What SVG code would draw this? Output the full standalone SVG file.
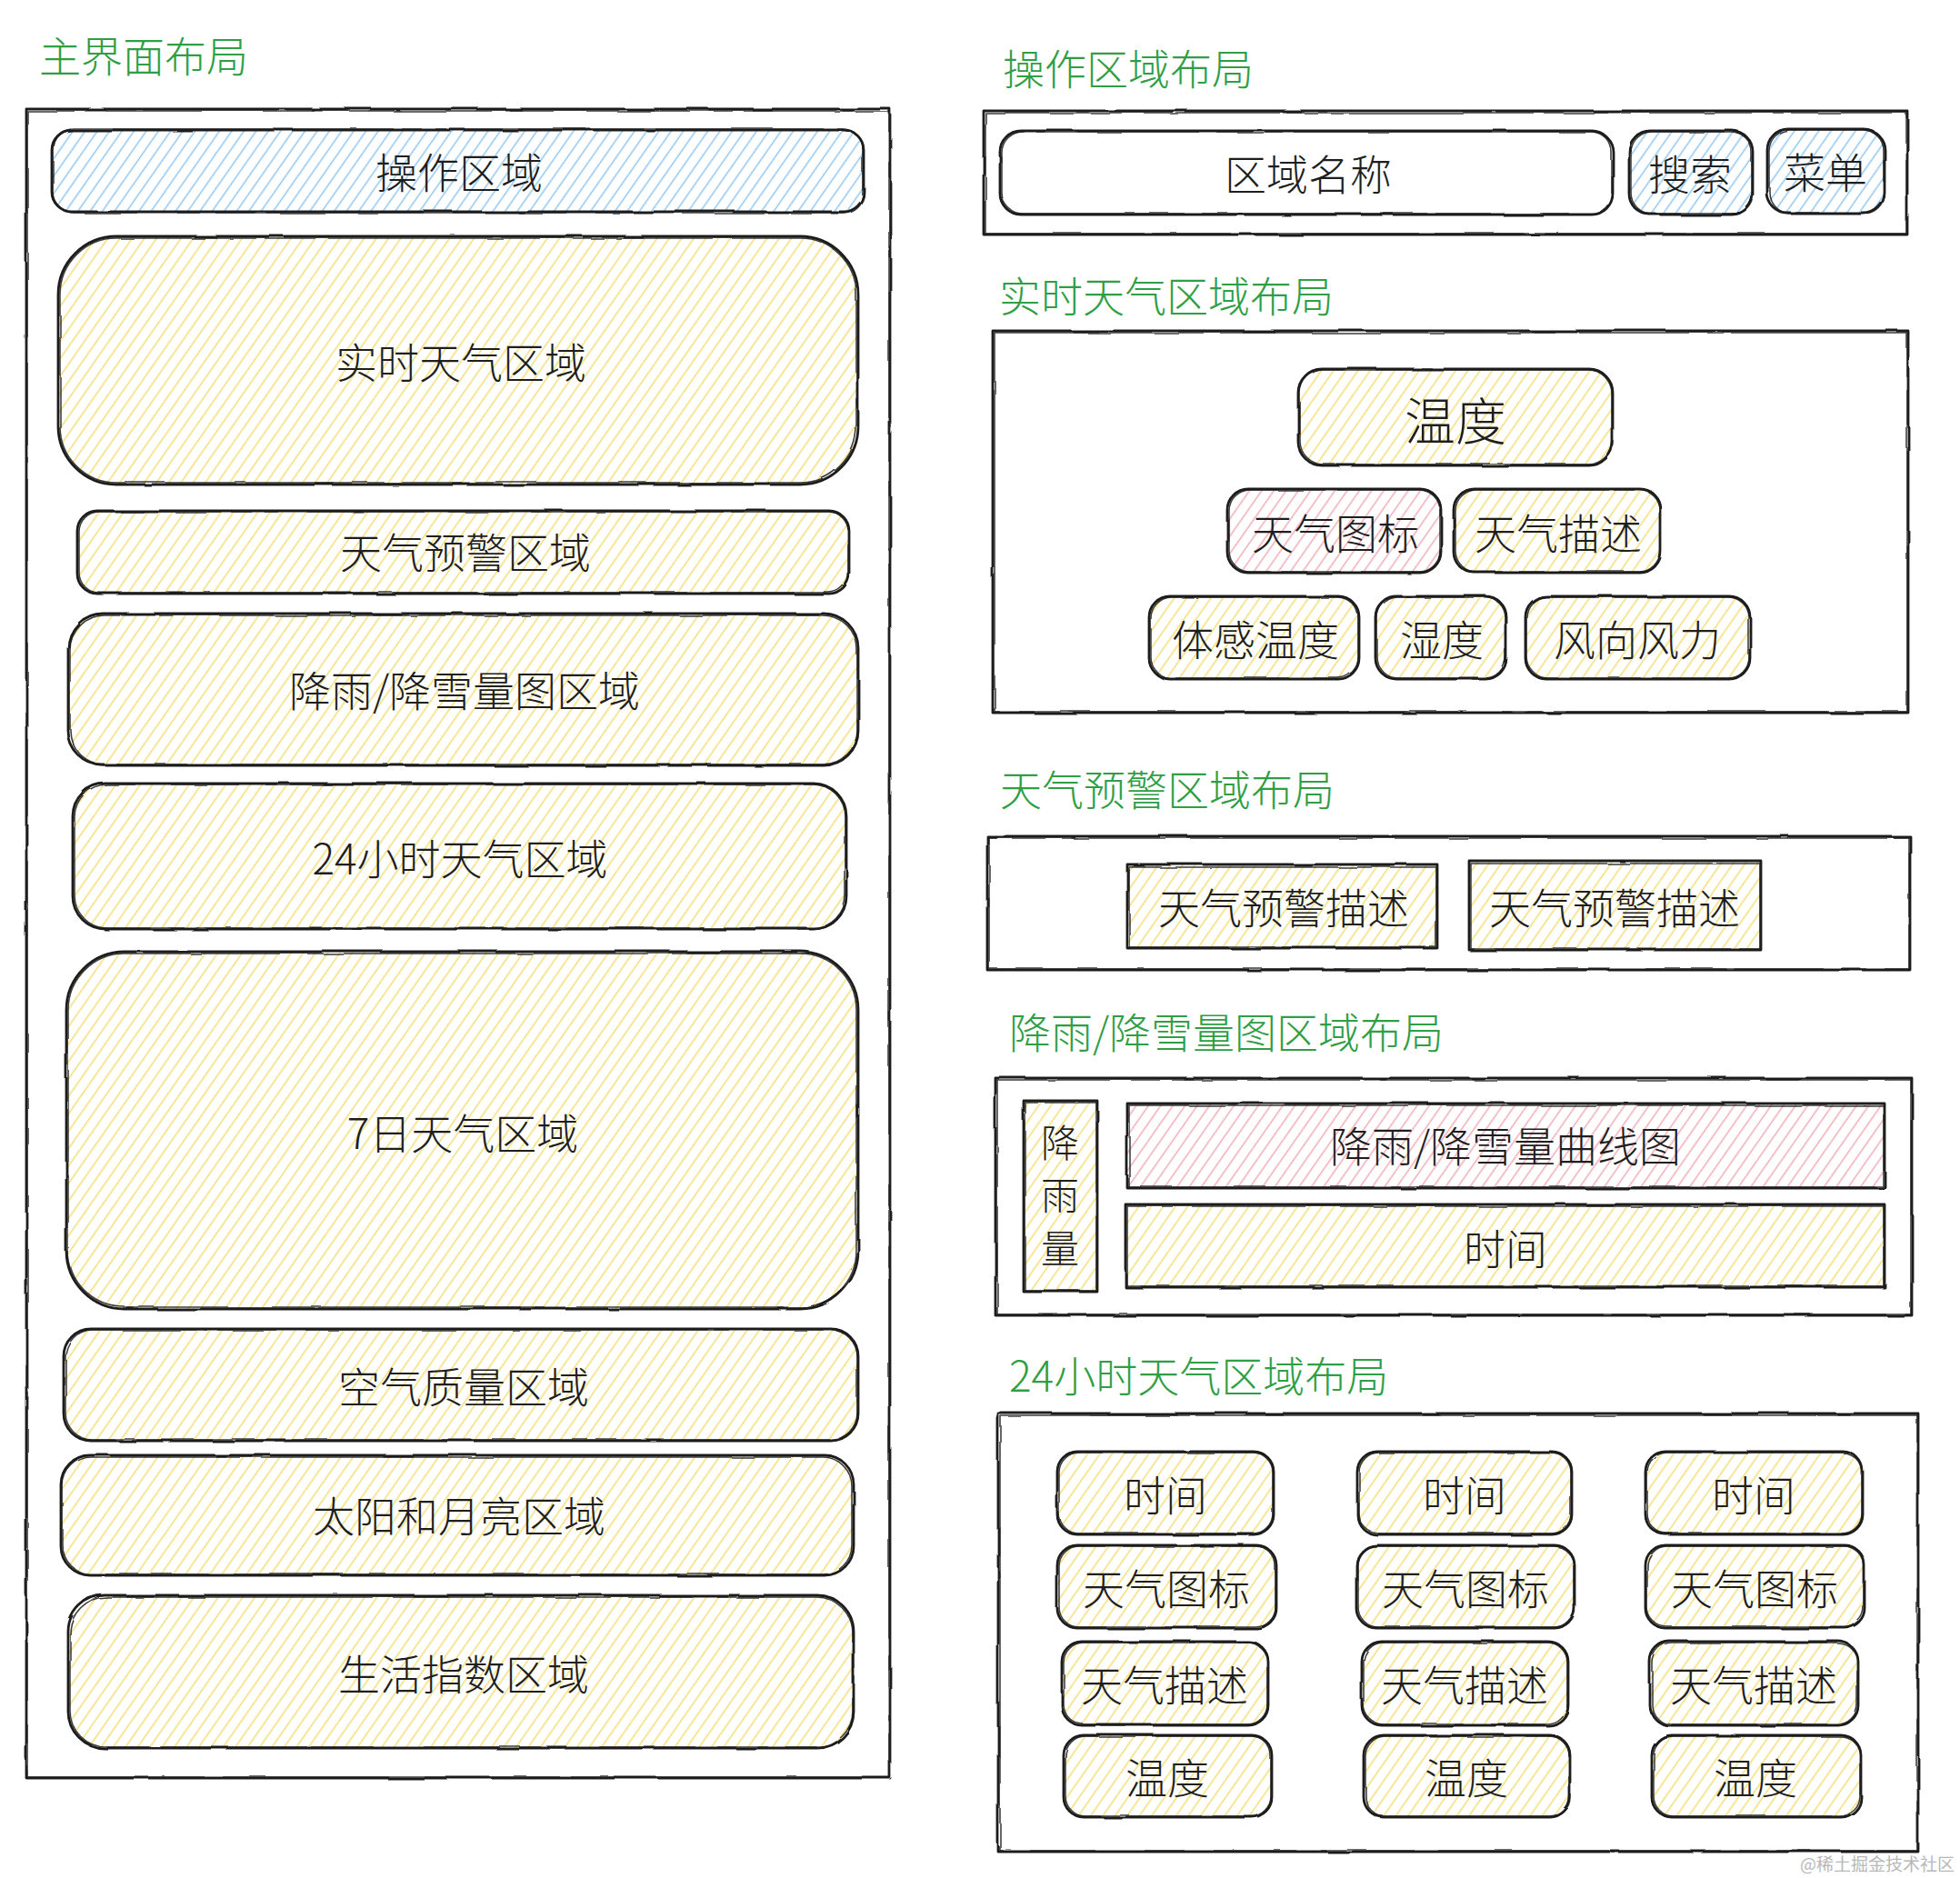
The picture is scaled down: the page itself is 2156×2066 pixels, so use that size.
<svg xmlns="http://www.w3.org/2000/svg" width="2156" height="2066" viewBox="0 0 2156 2066">
<style>
.bg{fill:#ffffff}
.s{fill:none;stroke:#1e1e1e;stroke-width:2.8;stroke-linecap:round;stroke-linejoin:round;filter:url(#rough)}
.s2{fill:none;stroke:#1e1e1e;stroke-width:1.6;stroke-linecap:round;stroke-linejoin:round;opacity:.85;filter:url(#rough2)}
.hy{fill:url(#hy);stroke:none}
.hb{fill:url(#hb);stroke:none}
.hp{fill:url(#hp);stroke:none}
.wh{fill:#ffffff;stroke:none}
.t{font-family:"Noto Sans CJK SC","Noto Sans",sans-serif;font-size:46px;font-weight:300;fill:#1e1e1e;text-anchor:middle;dominant-baseline:central}
.big{font-size:56px}
.vt{font-family:"Noto Sans CJK SC","Noto Sans",sans-serif;font-size:42px;font-weight:300;fill:#1e1e1e;writing-mode:vertical-rl;letter-spacing:16px}
.g{font-family:"Noto Sans CJK SC","Noto Sans",sans-serif;font-size:46px;font-weight:300;fill:#2f9e44;dominant-baseline:central}
.wm{font-family:"Noto Sans CJK SC",serif;font-size:19px;fill:#b8b8b8;text-anchor:end;dominant-baseline:central}
</style>
<defs>
<filter id="rough" x="-5%" y="-5%" width="110%" height="110%"><feTurbulence type="fractalNoise" baseFrequency="0.015" numOctaves="2" seed="4"/><feDisplacementMap in="SourceGraphic" scale="3"/></filter>
<filter id="rough2" x="-5%" y="-5%" width="110%" height="110%"><feTurbulence type="fractalNoise" baseFrequency="0.02" numOctaves="2" seed="9"/><feDisplacementMap in="SourceGraphic" scale="3.5"/></filter>
<pattern id="hy" width="11" height="11" patternUnits="userSpaceOnUse" patternTransform="rotate(35)"><line x1="5.5" y1="0" x2="5.5" y2="11" stroke="#f3dc72" stroke-width="1.5"/></pattern>
<pattern id="hb" width="11" height="11" patternUnits="userSpaceOnUse" patternTransform="rotate(35)"><line x1="5.5" y1="0" x2="5.5" y2="11" stroke="#8ec5f0" stroke-width="1.5"/></pattern>
<pattern id="hp" width="11" height="11" patternUnits="userSpaceOnUse" patternTransform="rotate(35)"><line x1="5.5" y1="0" x2="5.5" y2="11" stroke="#f0a9b6" stroke-width="1.5"/></pattern>
</defs>
<rect class="bg" x="0" y="0" width="2156" height="2066"/>

<!-- ===== Left: main layout ===== -->
<text id="title-main" class="g" x="43" y="59">主界面布局</text>
<g id="main-frame">
<rect class="s" x="29" y="120" width="950" height="1836"/>
<rect class="s2" x="30" y="122" width="948" height="1833"/>
</g>
<g id="main-op">
<rect class="hb" x="57" y="143" width="893" height="90" rx="22"/>
<rect class="s" x="57" y="143" width="893" height="90" rx="22"/>
<rect class="s2" x="59" y="142" width="890" height="92" rx="22"/>
<text class="t" x="505" y="187">操作区域</text>
</g>
<g id="main-realtime">
<rect class="hy" x="64" y="260" width="880" height="273" rx="64"/>
<rect class="s" x="64" y="260" width="880" height="273" rx="64"/>
<rect class="s2" x="66" y="262" width="876" height="269" rx="62"/>
<text class="t" x="507" y="396">实时天气区域</text>
</g>
<g id="main-warn">
<rect class="hy" x="85" y="562" width="849" height="91" rx="22"/>
<rect class="s" x="85" y="562" width="849" height="91" rx="22"/>
<rect class="s2" x="87" y="563" width="846" height="89" rx="22"/>
<text class="t" x="512" y="605">天气预警区域</text>
</g>
<g id="main-rain">
<rect class="hy" x="75" y="675" width="869" height="167" rx="38"/>
<rect class="s" x="75" y="675" width="869" height="167" rx="38"/>
<rect class="s2" x="77" y="677" width="866" height="164" rx="38"/>
<text class="t" x="511" y="757">降雨/降雪量图区域</text>
</g>
<g id="main-24h">
<rect class="hy" x="80" y="862" width="851" height="160" rx="36"/>
<rect class="s" x="80" y="862" width="851" height="160" rx="36"/>
<rect class="s2" x="82" y="863" width="848" height="158" rx="36"/>
<text class="t" x="506" y="942">24小时天气区域</text>
</g>
<g id="main-7d">
<rect class="hy" x="73" y="1047" width="871" height="393" rx="64"/>
<rect class="s" x="73" y="1047" width="871" height="393" rx="64"/>
<rect class="s2" x="75" y="1049" width="867" height="389" rx="62"/>
<text class="t" x="509" y="1244">7日天气区域</text>
</g>
<g id="main-air">
<rect class="hy" x="70" y="1462" width="874" height="123" rx="30"/>
<rect class="s" x="70" y="1462" width="874" height="123" rx="30"/>
<rect class="s2" x="72" y="1463" width="871" height="121" rx="30"/>
<text class="t" x="510" y="1523">空气质量区域</text>
</g>
<g id="main-sun">
<rect class="hy" x="67" y="1601" width="872" height="132" rx="32"/>
<rect class="s" x="67" y="1601" width="872" height="132" rx="32"/>
<rect class="s2" x="69" y="1603" width="868" height="129" rx="32"/>
<text class="t" x="505" y="1665">太阳和月亮区域</text>
</g>
<g id="main-life">
<rect class="hy" x="75" y="1755" width="864" height="168" rx="40"/>
<rect class="s" x="75" y="1755" width="864" height="168" rx="40"/>
<rect class="s2" x="77" y="1757" width="861" height="165" rx="40"/>
<text class="t" x="510" y="1839">生活指数区域</text>
</g>

<!-- ===== Right: operation area layout ===== -->
<text id="title-op" class="g" x="1103" y="73">操作区域布局</text>
<g id="op-frame">
<rect class="s" x="1082" y="122" width="1016" height="136"/>
<rect class="s2" x="1084" y="124" width="1013" height="133"/>
</g>
<g id="op-name">
<rect class="wh" x="1100" y="144" width="674" height="92" rx="23"/>
<rect class="s" x="1100" y="144" width="674" height="92" rx="23"/>
<rect class="s2" x="1102" y="145" width="671" height="90" rx="23"/>
<text class="t" x="1439" y="189">区域名称</text>
</g>
<g id="op-search">
<rect class="hb" x="1792" y="144" width="136" height="92" rx="23"/>
<rect class="s" x="1792" y="144" width="136" height="92" rx="23"/>
<rect class="s2" x="1794" y="145" width="133" height="90" rx="23"/>
<text class="t" x="1859" y="189">搜索</text>
</g>
<g id="op-menu">
<rect class="hb" x="1944" y="142" width="129" height="93" rx="23"/>
<rect class="s" x="1944" y="142" width="129" height="93" rx="23"/>
<rect class="s2" x="1946" y="143" width="126" height="91" rx="23"/>
<text class="t" x="2008" y="187">菜单</text>
</g>

<!-- ===== Right: realtime weather layout ===== -->
<text id="title-rt" class="g" x="1099" y="323">实时天气区域布局</text>
<g id="rt-frame">
<rect class="s" x="1092" y="364" width="1007" height="420"/>
<rect class="s2" x="1094" y="366" width="1004" height="417"/>
</g>
<g id="rt-temp">
<rect class="hy" x="1428" y="406" width="346" height="106" rx="26"/>
<rect class="s" x="1428" y="406" width="346" height="106" rx="26"/>
<rect class="s2" x="1430" y="407" width="343" height="104" rx="26"/>
<text class="t big" x="1601" y="459">温度</text>
</g>
<g id="rt-icon">
<rect class="hp" x="1350" y="538" width="235" height="92" rx="23"/>
<rect class="s" x="1350" y="538" width="235" height="92" rx="23"/>
<rect class="s2" x="1352" y="539" width="232" height="90" rx="23"/>
<text class="t" x="1469" y="584">天气图标</text>
</g>
<g id="rt-desc">
<rect class="hy" x="1599" y="538" width="228" height="92" rx="23"/>
<rect class="s" x="1599" y="538" width="228" height="92" rx="23"/>
<rect class="s2" x="1601" y="539" width="225" height="90" rx="23"/>
<text class="t" x="1714" y="584">天气描述</text>
</g>
<g id="rt-feel">
<rect class="hy" x="1264" y="656" width="231" height="91" rx="23"/>
<rect class="s" x="1264" y="656" width="231" height="91" rx="23"/>
<rect class="s2" x="1266" y="657" width="228" height="89" rx="23"/>
<text class="t" x="1381" y="701">体感温度</text>
</g>
<g id="rt-hum">
<rect class="hy" x="1513" y="656" width="144" height="91" rx="23"/>
<rect class="s" x="1513" y="656" width="144" height="91" rx="23"/>
<rect class="s2" x="1515" y="657" width="141" height="89" rx="23"/>
<text class="t" x="1586" y="701">湿度</text>
</g>
<g id="rt-wind">
<rect class="hy" x="1678" y="656" width="247" height="91" rx="23"/>
<rect class="s" x="1678" y="656" width="247" height="91" rx="23"/>
<rect class="s2" x="1680" y="657" width="244" height="89" rx="23"/>
<text class="t" x="1801" y="701">风向风力</text>
</g>

<!-- ===== Right: warning layout ===== -->
<text id="title-warn" class="g" x="1100" y="866">天气预警区域布局</text>
<g id="warn-frame">
<rect class="s" x="1086" y="920" width="1015" height="147"/>
<rect class="s2" x="1088" y="922" width="1012" height="144"/>
</g>
<g id="warn-d1">
<rect class="hy" x="1240" y="951" width="341" height="92"/>
<rect class="s" x="1240" y="951" width="341" height="92"/>
<rect class="s2" x="1242" y="954" width="338" height="88"/>
<text class="t" x="1412" y="996">天气预警描述</text>
</g>
<g id="warn-d2">
<rect class="hy" x="1616" y="947" width="321" height="98"/>
<rect class="s" x="1616" y="947" width="321" height="98"/>
<rect class="s2" x="1618" y="950" width="318" height="94"/>
<text class="t" x="1776" y="996">天气预警描述</text>
</g>

<!-- ===== Right: rain layout ===== -->
<text id="title-rain" class="g" x="1110" y="1133">降雨/降雪量图区域布局</text>
<g id="rain-frame">
<rect class="s" x="1095" y="1186" width="1008" height="261"/>
<rect class="s2" x="1097" y="1188" width="1005" height="258"/>
</g>
<g id="rain-label">
<rect class="hy" x="1126" y="1211" width="81" height="210"/>
<rect class="s" x="1126" y="1211" width="81" height="210"/>
<rect class="s2" x="1128" y="1213" width="78" height="207"/>
<text class="vt" x="1166" y="1236">降雨量</text>
</g>
<g id="rain-curve">
<rect class="hp" x="1240" y="1214" width="833" height="93"/>
<rect class="s" x="1240" y="1214" width="833" height="93"/>
<rect class="s2" x="1242" y="1216" width="830" height="90"/>
<text class="t" x="1656" y="1258">降雨/降雪量曲线图</text>
</g>
<g id="rain-time">
<rect class="hy" x="1238" y="1325" width="835" height="91"/>
<rect class="s" x="1238" y="1325" width="835" height="91"/>
<rect class="s2" x="1240" y="1327" width="832" height="88"/>
<text class="t" x="1656" y="1371">时间</text>
</g>

<!-- ===== Right: 24h layout ===== -->
<text id="title-24h" class="g" x="1110" y="1511">24小时天气区域布局</text>
<g id="h24-frame">
<rect class="s" x="1098" y="1555" width="1012" height="482"/>
<rect class="s2" x="1100" y="1557" width="1009" height="479"/>
</g>
<g id="h24-c1-time"><rect class="hy" x="1163" y="1597" width="238" height="91" rx="22"/><rect class="s" x="1163" y="1597" width="238" height="91" rx="22"/><rect class="s2" x="1165" y="1598" width="235" height="89" rx="22"/><text class="t" x="1282" y="1642">时间</text></g>
<g id="h24-c2-time"><rect class="hy" x="1493" y="1597" width="236" height="91" rx="22"/><rect class="s" x="1493" y="1597" width="236" height="91" rx="22"/><rect class="s2" x="1495" y="1598" width="233" height="89" rx="22"/><text class="t" x="1611" y="1642">时间</text></g>
<g id="h24-c3-time"><rect class="hy" x="1810" y="1597" width="239" height="91" rx="22"/><rect class="s" x="1810" y="1597" width="239" height="91" rx="22"/><rect class="s2" x="1812" y="1598" width="236" height="89" rx="22"/><text class="t" x="1929" y="1642">时间</text></g>

<g id="h24-c1-icon"><rect class="hy" x="1163" y="1700" width="241" height="91" rx="22"/><rect class="s" x="1163" y="1700" width="241" height="91" rx="22"/><rect class="s2" x="1165" y="1701" width="238" height="89" rx="22"/><text class="t" x="1283" y="1745">天气图标</text></g>
<g id="h24-c2-icon"><rect class="hy" x="1492" y="1700" width="240" height="91" rx="22"/><rect class="s" x="1492" y="1700" width="240" height="91" rx="22"/><rect class="s2" x="1494" y="1701" width="237" height="89" rx="22"/><text class="t" x="1612" y="1745">天气图标</text></g>
<g id="h24-c3-icon"><rect class="hy" x="1810" y="1700" width="241" height="91" rx="22"/><rect class="s" x="1810" y="1700" width="241" height="91" rx="22"/><rect class="s2" x="1812" y="1701" width="238" height="89" rx="22"/><text class="t" x="1930" y="1745">天气图标</text></g>

<g id="h24-c1-desc"><rect class="hy" x="1168" y="1806" width="227" height="92" rx="22"/><rect class="s" x="1168" y="1806" width="227" height="92" rx="22"/><rect class="s2" x="1170" y="1807" width="224" height="90" rx="22"/><text class="t" x="1281" y="1851">天气描述</text></g>
<g id="h24-c2-desc"><rect class="hy" x="1498" y="1806" width="227" height="92" rx="22"/><rect class="s" x="1498" y="1806" width="227" height="92" rx="22"/><rect class="s2" x="1500" y="1807" width="224" height="90" rx="22"/><text class="t" x="1611" y="1851">天气描述</text></g>
<g id="h24-c3-desc"><rect class="hy" x="1815" y="1806" width="229" height="92" rx="22"/><rect class="s" x="1815" y="1806" width="229" height="92" rx="22"/><rect class="s2" x="1817" y="1807" width="226" height="90" rx="22"/><text class="t" x="1929" y="1851">天气描述</text></g>

<g id="h24-c1-temp"><rect class="hy" x="1170" y="1909" width="229" height="90" rx="22"/><rect class="s" x="1170" y="1909" width="229" height="90" rx="22"/><rect class="s2" x="1172" y="1910" width="226" height="88" rx="22"/><text class="t" x="1284" y="1953">温度</text></g>
<g id="h24-c2-temp"><rect class="hy" x="1500" y="1909" width="227" height="90" rx="22"/><rect class="s" x="1500" y="1909" width="227" height="90" rx="22"/><rect class="s2" x="1502" y="1910" width="224" height="88" rx="22"/><text class="t" x="1613" y="1953">温度</text></g>
<g id="h24-c3-temp"><rect class="hy" x="1817" y="1909" width="230" height="90" rx="22"/><rect class="s" x="1817" y="1909" width="230" height="90" rx="22"/><rect class="s2" x="1819" y="1910" width="227" height="88" rx="22"/><text class="t" x="1931" y="1953">温度</text></g>

<text id="watermark" class="wm" x="2150" y="2049">@稀土掘金技术社区</text>
</svg>
